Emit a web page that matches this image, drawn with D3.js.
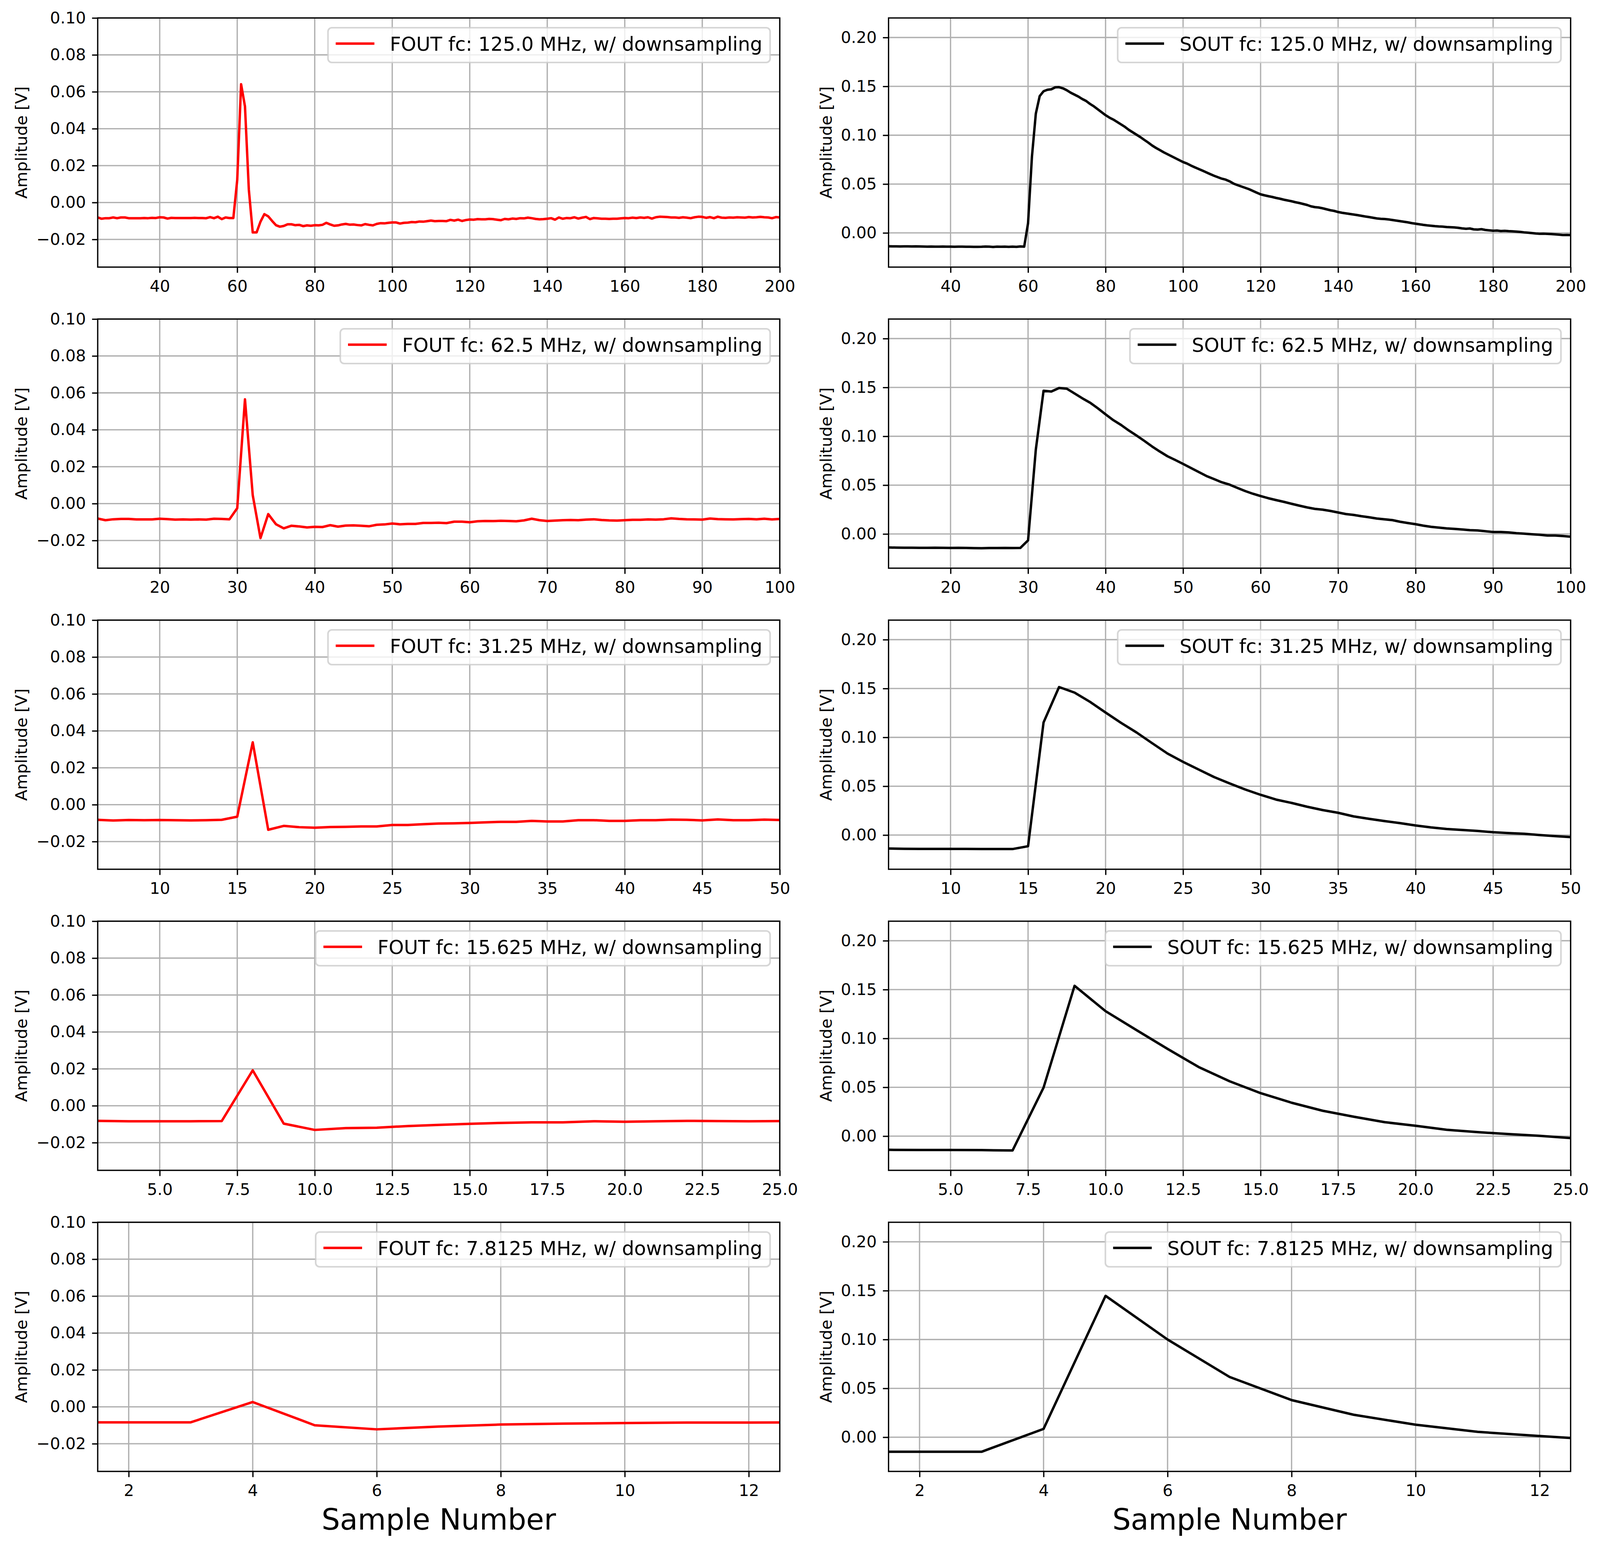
<!DOCTYPE html>
<html>
<head>
<meta charset="utf-8">
<script src="https://cdn.jsdelivr.net/npm/d3@7"></script>
<style>
  html, body { margin: 0; padding: 0; width: 100%; height: 100%; overflow: hidden; background: #fff; }
  svg { display: block; font-family: "DejaVu Sans", sans-serif; }
</style>
</head>
<body>
<svg id="chart"></svg>
<script>
// ---- data (one value per sample number) ----
const cutoffs = ['125.0', '62.5', '31.25', '15.625', '7.8125'];
const firstSample = [24, 12, 6, 3, 1];
const xLimits = [[24, 200], [12, 100], [6, 50], [3, 25], [1.5, 12.5]];
const xTicks = [
  [40, 60, 80, 100, 120, 140, 160, 180, 200],
  [20, 30, 40, 50, 60, 70, 80, 90, 100],
  [10, 15, 20, 25, 30, 35, 40, 45, 50],
  [5, 7.5, 10, 12.5, 15, 17.5, 20, 22.5, 25],
  [2, 4, 6, 8, 10, 12],
];
const xTickFormats = ['d', 'd', 'd', '.1f', 'd'];
const foutYTicks = [-0.02, 0, 0.02, 0.04, 0.06, 0.08, 0.1];
const soutYTicks = [0, 0.05, 0.1, 0.15, 0.2];

const fout125 = [
  -0.0081, -0.0088, -0.0085, -0.0085, -0.0081, -0.0085, -0.0081, -0.0081, -0.0085, -0.0085,
  -0.0085, -0.0085, -0.0084, -0.0085, -0.0083, -0.0084, -0.0080, -0.0081, -0.0087, -0.0083,
  -0.0084, -0.0084, -0.0084, -0.0084, -0.0084, -0.0083, -0.0084, -0.0084, -0.0085, -0.0079,
  -0.0085, -0.0077, -0.0090, -0.0081, -0.0084, -0.0084, 0.0122, 0.0641, 0.0521, 0.0069,
  -0.0162, -0.0162, -0.0104, -0.0063, -0.0075, -0.0100, -0.0123, -0.0131, -0.0127, -0.0118,
  -0.0118, -0.0123, -0.0121, -0.0128, -0.0124, -0.0126, -0.0123, -0.0124, -0.0121, -0.0110,
  -0.0119, -0.0126, -0.0124, -0.0119, -0.0116, -0.0120, -0.0119, -0.0122, -0.0124, -0.0117,
  -0.0121, -0.0124, -0.0116, -0.0112, -0.0113, -0.0110, -0.0108, -0.0108, -0.0114, -0.0110,
  -0.0109, -0.0106, -0.0107, -0.0103, -0.0104, -0.0101, -0.0098, -0.0101, -0.0100, -0.0100,
  -0.0101, -0.0094, -0.0098, -0.0093, -0.0100, -0.0095, -0.0092, -0.0093, -0.0090, -0.0091,
  -0.0091, -0.0089, -0.0090, -0.0093, -0.0096, -0.0089, -0.0091, -0.0087, -0.0089, -0.0085,
  -0.0086, -0.0082, -0.0085, -0.0089, -0.0091, -0.0090, -0.0088, -0.0085, -0.0093, -0.0081,
  -0.0088, -0.0084, -0.0085, -0.0080, -0.0087, -0.0082, -0.0078, -0.0090, -0.0084, -0.0086,
  -0.0088, -0.0088, -0.0089, -0.0088, -0.0088, -0.0086, -0.0084, -0.0085, -0.0082, -0.0084,
  -0.0081, -0.0083, -0.0080, -0.0087, -0.0080, -0.0077, -0.0078, -0.0079, -0.0081, -0.0081,
  -0.0083, -0.0080, -0.0082, -0.0085, -0.0080, -0.0077, -0.0078, -0.0083, -0.0079, -0.0085,
  -0.0077, -0.0082, -0.0083, -0.0081, -0.0082, -0.0080, -0.0081, -0.0082, -0.0079, -0.0081,
  -0.0080, -0.0078, -0.0080, -0.0081, -0.0085, -0.0079, -0.0081,
];
const sout125 = [
  -0.0137, -0.0138, -0.0138, -0.0139, -0.0138, -0.0138, -0.0139, -0.0138, -0.0139, -0.0140,
  -0.0141, -0.0140, -0.0141, -0.0141, -0.0140, -0.0141, -0.0141, -0.0142, -0.0141, -0.0141,
  -0.0142, -0.0142, -0.0143, -0.0143, -0.0142, -0.0140, -0.0141, -0.0144, -0.0141, -0.0142,
  -0.0141, -0.0143, -0.0141, -0.0143, -0.0139, -0.0141, 0.0100, 0.0780, 0.1220, 0.1400,
  0.1450, 0.1465, 0.1470, 0.1490, 0.1492, 0.1480, 0.1460, 0.1435, 0.1415, 0.1395,
  0.1370, 0.1350, 0.1320, 0.1295, 0.1265, 0.1235, 0.1205, 0.1180, 0.1160, 0.1135,
  0.1110, 0.1085, 0.1055, 0.1030, 0.1005, 0.0980, 0.0952, 0.0925, 0.0895, 0.0870,
  0.0848, 0.0825, 0.0805, 0.0785, 0.0765, 0.0745, 0.0725, 0.0710, 0.0690, 0.0672,
  0.0655, 0.0638, 0.0620, 0.0602, 0.0585, 0.0570, 0.0555, 0.0545, 0.0528, 0.0505,
  0.0490, 0.0476, 0.0462, 0.0448, 0.0430, 0.0412, 0.0395, 0.0385, 0.0376, 0.0368,
  0.0358, 0.0350, 0.0340, 0.0332, 0.0324, 0.0314, 0.0306, 0.0296, 0.0286, 0.0272,
  0.0264, 0.0260, 0.0252, 0.0242, 0.0232, 0.0225, 0.0214, 0.0206, 0.0200, 0.0194,
  0.0188, 0.0182, 0.0175, 0.0168, 0.0162, 0.0155, 0.0148, 0.0144, 0.0142, 0.0138,
  0.0132, 0.0126, 0.0120, 0.0114, 0.0108, 0.0100, 0.0094, 0.0088, 0.0082, 0.0077,
  0.0073, 0.0069, 0.0066, 0.0064, 0.0060, 0.0058, 0.0056, 0.0052, 0.0046, 0.0042,
  0.0045, 0.0036, 0.0034, 0.0038, 0.0030, 0.0026, 0.0022, 0.0024, 0.0019, 0.0021,
  0.0018, 0.0016, 0.0013, 0.0010, 0.0005, 0.0002, -0.0002, -0.0006, -0.0009, -0.0008,
  -0.0010, -0.0012, -0.0015, -0.0018, -0.0022, -0.0021, -0.0022,
];
const fout62 = [
  -0.0081, -0.0090, -0.0085, -0.0083, -0.0083, -0.0086, -0.0086, -0.0086, -0.0082, -0.0084,
  -0.0087, -0.0086, -0.0087, -0.0086, -0.0087, -0.0082, -0.0083, -0.0085, -0.0025, 0.0565,
  0.0046, -0.0187, -0.0057, -0.0112, -0.0134, -0.0120, -0.0124, -0.0129, -0.0126, -0.0127,
  -0.0117, -0.0125, -0.0119, -0.0118, -0.0120, -0.0123, -0.0115, -0.0113, -0.0108, -0.0112,
  -0.0110, -0.0110, -0.0105, -0.0105, -0.0104, -0.0106, -0.0098, -0.0098, -0.0101, -0.0096,
  -0.0094, -0.0095, -0.0093, -0.0094, -0.0096, -0.0091, -0.0082, -0.0090, -0.0094, -0.0092,
  -0.0090, -0.0089, -0.0090, -0.0087, -0.0085, -0.0089, -0.0091, -0.0092, -0.0090, -0.0088,
  -0.0088, -0.0086, -0.0087, -0.0085, -0.0080, -0.0083, -0.0085, -0.0086, -0.0087, -0.0081,
  -0.0084, -0.0085, -0.0086, -0.0084, -0.0083, -0.0085, -0.0082, -0.0086, -0.0083,
];
const sout62 = [
  -0.0138, -0.0140, -0.0141, -0.0141, -0.0142, -0.0142, -0.0141, -0.0142, -0.0143, -0.0142,
  -0.0143, -0.0145, -0.0146, -0.0144, -0.0144, -0.0143, -0.0144, -0.0143, -0.0065, 0.0863,
  0.1466, 0.1458, 0.1494, 0.1487, 0.1438, 0.1389, 0.1344, 0.1287, 0.1225, 0.1165,
  0.1116, 0.1059, 0.1007, 0.0953, 0.0896, 0.0844, 0.0795, 0.0757, 0.0717, 0.0676,
  0.0635, 0.0594, 0.0562, 0.0529, 0.0505, 0.0472, 0.0440, 0.0412, 0.0388, 0.0366,
  0.0347, 0.0329, 0.0309, 0.0290, 0.0272, 0.0257, 0.0249, 0.0236, 0.0220, 0.0204,
  0.0195, 0.0182, 0.0171, 0.0158, 0.0150, 0.0142, 0.0125, 0.0112, 0.0100, 0.0085,
  0.0073, 0.0065, 0.0057, 0.0052, 0.0046, 0.0039, 0.0036, 0.0028, 0.0020, 0.0020,
  0.0016, 0.0008, 0.0003, -0.0003, -0.0008, -0.0016, -0.0016, -0.0021, -0.0028,
];
const fout31 = [
  -0.0082, -0.0086, -0.0083, -0.0084, -0.0083, -0.0084, -0.0085, -0.0084, -0.0082, -0.0065,
  0.0338, -0.0136, -0.0115, -0.0122, -0.0125, -0.0121, -0.0120, -0.0118, -0.0118, -0.0110,
  -0.0110, -0.0106, -0.0102, -0.0101, -0.0099, -0.0096, -0.0093, -0.0093, -0.0088, -0.0091,
  -0.0091, -0.0084, -0.0084, -0.0088, -0.0088, -0.0084, -0.0084, -0.0081, -0.0082, -0.0085,
  -0.0080, -0.0084, -0.0084, -0.0081, -0.0083,
];
const sout31 = [
  -0.0138, -0.0141, -0.0142, -0.0142, -0.0142, -0.0142, -0.0143, -0.0143, -0.0143, -0.0114,
  0.1153, 0.1515, 0.1458, 0.1363, 0.1254, 0.1148, 0.1050, 0.0941, 0.0834, 0.0749,
  0.0671, 0.0594, 0.0529, 0.0467, 0.0412, 0.0363, 0.0329, 0.0290, 0.0256, 0.0228,
  0.0191, 0.0166, 0.0143, 0.0122, 0.0098, 0.0078, 0.0062, 0.0052, 0.0042, 0.0029,
  0.0020, 0.0013, 0.0000, -0.0011, -0.0021,
];
const fout15 = [
  -0.0082, -0.0084, -0.0084, -0.0084, -0.0083, 0.0192, -0.0097, -0.0131, -0.0121, -0.0119,
  -0.0110, -0.0104, -0.0098, -0.0093, -0.0090, -0.0090, -0.0084, -0.0087, -0.0084, -0.0082,
  -0.0083, -0.0084, -0.0083,
];
const sout15 = [
  -0.0140, -0.0142, -0.0142, -0.0143, -0.0147, 0.0497, 0.1539, 0.1279, 0.1085, 0.0893,
  0.0708, 0.0562, 0.0440, 0.0342, 0.0260, 0.0199, 0.0143, 0.0106, 0.0065, 0.0041,
  0.0021, 0.0003, -0.0020,
];
const fout7 = [
  -0.0084, -0.0084, -0.0084, 0.0026, -0.0100, -0.0122, -0.0107, -0.0096, -0.0091, -0.0088,
  -0.0085, -0.0085, -0.0084,
];
const sout7 = [
  -0.0149, -0.0149, -0.0149, 0.0085, 0.1447, 0.1000, 0.0617, 0.0380, 0.0230, 0.0128,
  0.0055, 0.0012, -0.0028,
];

const foutSeries = [fout125, fout62, fout31, fout15, fout7];
const soutSeries = [sout125, sout62, sout31, sout15, sout7];

// ---- layout (matplotlib figure at 300 dpi) ----
const W = 4138;
const H = 3959;
const pt = 300 / 72;
const colX = [252.7, 2298];
const plotW = 1764;
const rowY = [46, 817, 1588, 2359, 3130];
const plotH = 638;
const yLabelX = [70, 2151];
const tickFont = 10 * pt;
const legendFont = 12 * pt;

// scale the whole figure to whatever viewport we get
const svg = d3
  .select('#chart')
  .attr('width', '100%')
  .attr('height', '100%')
  .attr('viewBox', '0 0 ' + W + ' ' + H)
  .attr('preserveAspectRatio', 'none')
  .style('width', '100vw')
  .style('height', '100vh');
svg.append('rect').attr('width', W).attr('height', H).attr('fill', '#fff');

function drawPanel(row, col) {
  const isFout = col === 0;
  const values = isFout ? foutSeries[row] : soutSeries[row];
  const x0 = firstSample[row];
  const data = values.map((v, i) => ({ x: x0 + i, y: v }));
  const colour = isFout ? '#ff0000' : '#000000';
  const label =
    (isFout ? 'FOUT' : 'SOUT') + ' fc: ' + cutoffs[row] + ' MHz, w/ downsampling';
  const id = 'clip-' + row + '-' + col;

  const xScale = d3.scaleLinear().domain(xLimits[row]).range([0, plotW]);
  const yScale = d3
    .scaleLinear()
    .domain(isFout ? [-0.035, 0.1] : [-0.035, 0.22])
    .range([plotH, 0]);
  const yTicks = isFout ? foutYTicks : soutYTicks;

  const g = svg
    .append('g')
    .attr('transform', 'translate(' + colX[col] + ',' + rowY[row] + ')');

  g.append('clipPath')
    .attr('id', id)
    .append('rect')
    .attr('width', plotW)
    .attr('height', plotH);

  // grid
  const grid = g.append('g').attr('stroke', '#b0b0b0').attr('stroke-width', 0.8 * pt);
  grid
    .selectAll('.gx')
    .data(xTicks[row])
    .join('line')
    .attr('x1', (d) => xScale(d))
    .attr('x2', (d) => xScale(d))
    .attr('y1', 0)
    .attr('y2', plotH);
  grid
    .selectAll('.gy')
    .data(yTicks)
    .join('line')
    .attr('y1', (d) => yScale(d))
    .attr('y2', (d) => yScale(d))
    .attr('x1', 0)
    .attr('x2', plotW);

  // signal
  const line = d3
    .line()
    .x((d) => xScale(d.x))
    .y((d) => yScale(d.y));
  g.append('path')
    .datum(data)
    .attr('clip-path', 'url(#' + id + ')')
    .attr('d', line)
    .attr('fill', 'none')
    .attr('stroke', colour)
    .attr('stroke-width', 1.5 * pt)
    .attr('stroke-linejoin', 'round')
    .attr('stroke-linecap', 'square');

  // axes
  const xAxis = d3
    .axisBottom(xScale)
    .tickValues(xTicks[row])
    .tickFormat(d3.format(xTickFormats[row]))
    .tickSizeInner(3.5 * pt)
    .tickSizeOuter(0)
    .tickPadding(18.8);
  const yAxis = d3
    .axisLeft(yScale)
    .tickValues(yTicks)
    .tickFormat(d3.format('.2f'))
    .tickSizeInner(3.5 * pt)
    .tickSizeOuter(0)
    .tickPadding(16);

  [
    g.append('g').attr('transform', 'translate(0,' + plotH + ')').call(xAxis),
    g.append('g').call(yAxis),
  ].forEach((ax) => {
    ax.select('.domain').remove();
    ax.selectAll('line').attr('stroke-width', 0.8 * pt);
    ax.selectAll('text')
      .attr('font-size', tickFont)
      .attr('font-family', '"DejaVu Sans", sans-serif')
      .attr('fill', '#000');
  });

  // spines
  g.append('rect')
    .attr('width', plotW)
    .attr('height', plotH)
    .attr('fill', 'none')
    .attr('stroke', '#000')
    .attr('stroke-width', 0.8 * pt);

  // y label
  svg
    .append('text')
    .attr(
      'transform',
      'translate(' + yLabelX[col] + ',' + (rowY[row] + plotH / 2) + ') rotate(-90)'
    )
    .attr('text-anchor', 'middle')
    .attr('font-size', tickFont)
    .text('Amplitude [V]');

  // legend (upper right)
  const pad = 0.4 * legendFont;
  const handle = 2 * legendFont;
  const gap = 0.8 * legendFont;
  const boxH = 89;
  const leg = g.append('g');
  const frame = leg
    .append('rect')
    .attr('rx', 0.2 * legendFont)
    .attr('ry', 0.2 * legendFont)
    .attr('height', boxH)
    .attr('fill', '#fff')
    .attr('fill-opacity', 0.8)
    .attr('stroke', '#cccccc')
    .attr('stroke-opacity', 0.8)
    .attr('stroke-width', 1 * pt);
  leg.append('line')
    .attr('x1', pad)
    .attr('x2', pad + handle)
    .attr('y1', 40.5)
    .attr('y2', 40.5)
    .attr('stroke', colour)
    .attr('stroke-width', 1.5 * pt);
  const txt = leg
    .append('text')
    .attr('x', pad + handle + gap)
    .attr('y', 59)
    .attr('font-size', legendFont)
    .text(label);
  const boxW = pad + handle + gap + txt.node().getComputedTextLength() + pad;
  frame.attr('width', boxW);
  const border = 0.5 * legendFont;
  leg.attr('transform', 'translate(' + (plotW - border - boxW) + ',' + border + ')');
}

for (let r = 0; r < cutoffs.length; r++) {
  drawPanel(r, 0);
  drawPanel(r, 1);
}

// x labels under the bottom row
[0, 1].forEach((c) => {
  svg
    .append('text')
    .attr('x', colX[c] + plotW / 2)
    .attr('y', 3917)
    .attr('text-anchor', 'middle')
    .attr('font-size', 18 * pt)
    .text('Sample Number');
});
</script>
</body>
</html>
